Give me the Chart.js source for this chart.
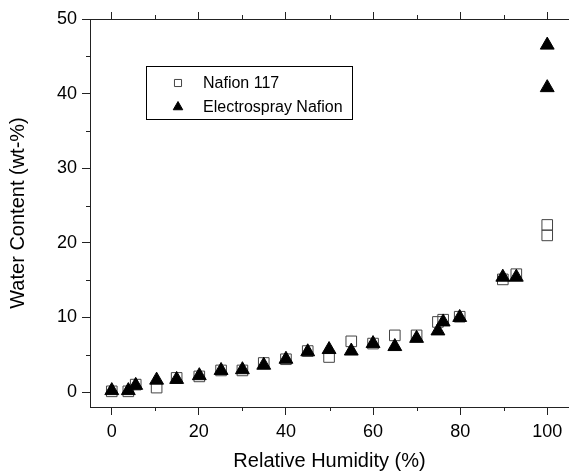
<!DOCTYPE html>
<html>
<head>
<meta charset="utf-8">
<script src="https://cdn.jsdelivr.net/npm/chart.js@4.4.0/dist/chart.umd.min.js"></script>
<style>
  body { margin: 0; background: #fff; }
  canvas { display: block; }
</style>
</head>
<body>
<canvas id="waterChart" width="569" height="473"></canvas>
<script>
// relative humidity (%) and water content (wt-%)
var nafionRH    = [0, 3.8, 5.5, 10.3, 14.9, 20.1, 25.1, 30, 34.9, 40, 45, 49.9, 55, 60, 65, 70, 74.9, 76.1, 79.9, 89.8, 92.9, 100, 100];
var nafionWater = [0.1, 0.1, 1.0, 0.6, 1.9, 2.1, 2.9, 2.9, 3.9, 4.4, 5.5, 4.7, 6.8, 6.5, 7.6, 7.6, 9.4, 9.7, 10.1, 15.1, 15.8, 22.4, 21.0];

var esprayRH    = [0, 3.8, 5.5, 10.3, 14.9, 20.1, 25.1, 30, 34.9, 40, 45, 49.9, 55, 60, 65, 70, 74.9, 76.1, 79.9, 89.8, 92.9, 100, 100];
var esprayWater = [0.2, 0.2, 0.9, 1.6, 1.7, 2.2, 2.9, 3.0, 3.6, 4.4, 5.4, 5.7, 5.5, 6.5, 6.1, 7.2, 8.2, 9.4, 10.0, 15.4, 15.4, 46.5, 40.8];

var xTicks = [0, 20, 40, 60, 80, 100];
var xMinor = [10, 30, 50, 70, 90];
var yTicks = [0, 10, 20, 30, 40, 50];
var yMinor = [5, 15, 25, 35, 45];

var axisColor = '#222';
var fontFamily = '"Liberation Sans", Arial, sans-serif';

function toPoints(xs, ys) {
    return xs.map(function (x, i) { return { x: x, y: ys[i] }; });
}

function setTicks(values) {
    return function (scale) {
        scale.ticks = values.map(function (v) { return { value: v }; });
    };
}

// small minor ticks, Origin style
var minorTicks = {
    id: 'minorTicks',
    afterDraw: function (chart) {
        var ctx = chart.ctx;
        var a = chart.chartArea;
        ctx.save();
        ctx.strokeStyle = axisColor;
        ctx.lineWidth = 1;
        ctx.beginPath();
        xMinor.forEach(function (v) {
            var px = Math.round(chart.scales.x.getPixelForValue(v)) + 0.5;
            ctx.moveTo(px, a.bottom);
            ctx.lineTo(px, a.bottom + 4);
            ctx.moveTo(px, a.top);
            ctx.lineTo(px, a.top - 4);
        });
        yMinor.forEach(function (v) {
            var py = Math.round(chart.scales.y.getPixelForValue(v)) + 0.5;
            ctx.moveTo(a.left, py);
            ctx.lineTo(a.left - 4, py);
        });
        ctx.stroke();
        ctx.restore();
    }
};

// boxed legend inside the plot
var boxLegend = {
    id: 'boxLegend',
    afterDraw: function (chart) {
        var ctx = chart.ctx;
        ctx.save();
        ctx.strokeStyle = '#000';
        ctx.lineWidth = 1;
        ctx.strokeRect(146.5, 66.5, 206, 53);
        ctx.font = '16px ' + fontFamily;
        ctx.textBaseline = 'middle';
        chart.data.datasets.forEach(function (ds, i) {
            var y = 83 + i * 24;
            ctx.fillStyle = ds.legendFill;
            ctx.strokeStyle = ds.borderColor;
            ctx.lineWidth = 1;
            Chart.helpers.drawPoint(ctx, {
                pointStyle: ds.pointStyle,
                radius: ds.legendRadius,
                borderWidth: 1
            }, 178, y);
            ctx.fillStyle = '#000';
            ctx.fillText(ds.label, 203, y + 1);
        });
        ctx.restore();
    }
};

function noSidePadding(s) {
    s.paddingLeft = 0;
    s.paddingRight = 0;
}

var ctx = document.getElementById('waterChart').getContext('2d');
var chart = new Chart(ctx, {
    type: 'scatter',
    data: {
        datasets: [
            {
                label: 'Nafion 117',
                data: toPoints(nafionRH, nafionWater),
                pointStyle: 'rect',
                pointRadius: 7.5,
                legendRadius: 5,
                legendFill: '#fff',
                backgroundColor: 'rgba(0,0,0,0)',
                borderColor: '#444',
                borderWidth: 1,
                order: 2
            },
            {
                label: 'Electrospray Nafion',
                data: toPoints(esprayRH, esprayWater),
                pointStyle: 'triangle',
                pointRadius: 8,
                legendRadius: 5.5,
                legendFill: '#000',
                backgroundColor: '#000',
                borderColor: '#000',
                borderWidth: 1,
                order: 1
            }
        ]
    },
    options: {
        responsive: false,
        animation: false,
        events: [],
        layout: { padding: 0, autoPadding: false },
        plugins: {
            legend: { display: false },
            tooltip: { enabled: false }
        },
        scales: {
            x: {
                type: 'linear',
                position: 'bottom',
                min: -5,
                max: 105,
                afterBuildTicks: setTicks(xTicks),
                afterFit: function (s) { s.height = 66; noSidePadding(s); },
                grid: { drawOnChartArea: false, tickLength: 8, color: axisColor },
                border: { display: true, color: axisColor, width: 1 },
                ticks: { color: '#000', padding: 6, font: { size: 18, family: fontFamily } },
                title: {
                    display: true,
                    text: 'Relative Humidity (%)',
                    color: '#000',
                    padding: 0,
                    font: { size: 20, family: fontFamily }
                }
            },
            x2: {
                type: 'linear',
                position: 'top',
                min: -5,
                max: 105,
                afterBuildTicks: setTicks(xTicks),
                afterFit: function (s) { s.height = 19; noSidePadding(s); },
                grid: { drawOnChartArea: false, tickLength: 7, color: axisColor },
                border: { display: true, color: axisColor, width: 1 },
                ticks: { display: false }
            },
            y: {
                type: 'linear',
                position: 'left',
                min: -2,
                max: 50,
                afterBuildTicks: setTicks(yTicks),
                afterFit: function (s) { s.width = 90; s.paddingTop = 0; s.paddingBottom = 0; },
                grid: { drawOnChartArea: false, tickLength: 8, color: axisColor },
                border: { display: true, color: axisColor, width: 1 },
                ticks: { color: '#000', padding: 5, font: { size: 18, family: fontFamily } },
                title: {
                    display: true,
                    text: 'Water Content (wt-%)',
                    color: '#000',
                    padding: { top: 6 },
                    font: { size: 20, family: fontFamily }
                }
            }
        }
    },
    plugins: [minorTicks, boxLegend]
});
</script>
</body>
</html>
